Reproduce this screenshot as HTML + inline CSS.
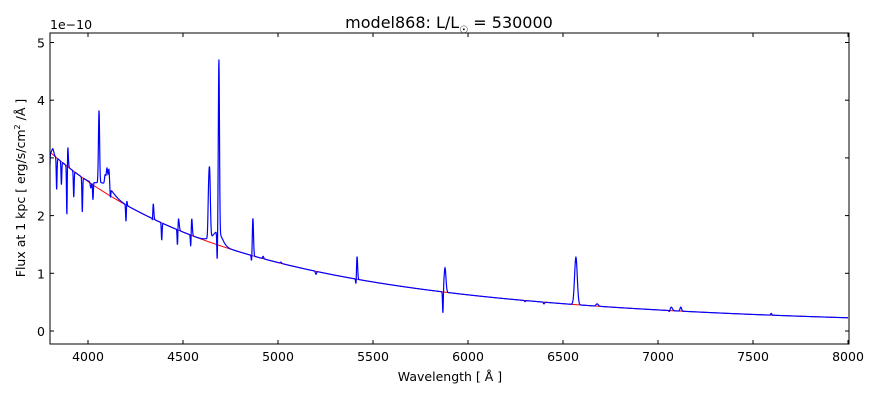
<!DOCTYPE html>
<html><head><meta charset="utf-8"><style>
body{margin:0;background:#fff;}
svg{display:block;font-family:"DejaVu Sans","Liberation Sans",sans-serif;}
</style></head><body>
<svg id="s" width="880" height="400" viewBox="0 0 880 400">
<rect width="880" height="400" fill="#fff"/>
<g id="plot"></g>
<rect x="50" y="33" width="799" height="311" fill="none" stroke="#000" stroke-width="1"/>
<g id="ticks" stroke="#000" stroke-width="1"></g>
<g font-size="12.5" fill="#000" id="lab"></g>
<text x="449" y="28" font-size="16" text-anchor="middle">model868: L/L<tspan font-size="10" dy="5">☉</tspan><tspan dy="-5"> = 530000</tspan></text>
<text x="50" y="29" font-size="12.5">1e−10</text>
<text x="450" y="381" font-size="12.5" text-anchor="middle">Wavelength [ Å ]</text>
<text transform="translate(25,188) rotate(-90)" font-size="12.5" text-anchor="middle">Flux at 1 kpc [ erg/s/cm<tspan font-size="8" dy="-5">2</tspan><tspan dy="5"> /Å ]</tspan></text>
</svg>
<script>
const X=l=>50+(l-3800)*0.19, Y=v=>331-v*57.7;
const cont=l=>3.1*Math.pow(3800/l,3.5);
const lines=[[4058,1.25,3],[4090,0.15,40],[4100,0.3,4],[4090,0.15,3],[4110,0.3,3],[4640,1.15,4],[4634,0.5,3],[4689,3.0,3],[4686,0.1,25],[4868,0.65,3],[5416,0.4,3],[5879,0.42,5],[6568,0.82,7],[4343,0.3,3],[4204,0.1,2],[4476,0.2,4],[4546,0.3,3],[3815,0.1,5],[3893,0.4,3],[7070,0.06,6],[7120,0.07,4],[6680,0.04,6],[4685,0.1,20],[4650,0.05,30],
[3889,-1.0,2],[3970,-0.6,2],[4026,-0.3,2],[4388,-0.3,2],[4471,-0.35,2],[4541,-0.25,2],[4680,-0.5,2],[5411,-0.15,2],[5868,-0.4,2],[3835,-0.55,2],[3798,-0.35,2],[3860,-0.4,2],[3925,-0.45,2],[4200,-0.3,2],[4861,-0.12,2],[4340,-0.15,2],[4922,0.04,3],[5015,0.02,3],[5200,-0.05,3],[6300,-0.02,3],[6400,-0.03,3],[7596,0.03,3],[7060,-0.03,3],[4118,-0.15,2],[4015,-0.1,3]];
let r="",b="";
for(let l=3800;l<=8000;l+=1){const c=cont(l);r+=(l==3800?"M":"L")+X(l).toFixed(2)+","+Y(c).toFixed(2);
let f=c;for(const [m,a,s] of lines){const d=(l-m)/s;if(Math.abs(d)<6)f+=a*Math.exp(-0.5*d*d);}
b+=(l==3800?"M":"L")+X(l).toFixed(2)+","+Y(f).toFixed(2);}
document.getElementById("plot").innerHTML=`<path d="${r}" fill="none" stroke="#f00" stroke-width="1"/><path d="${b}" fill="none" stroke="#00f" stroke-width="1.2"/>`;
let t="",lab="";
for(let v=4000;v<=8000;v+=500){const x=X(v);t+=`<line x1="${x}" y1="344" x2="${x}" y2="340"/><line x1="${x}" y1="33" x2="${x}" y2="37"/>`;lab+=`<text x="${x}" y="361" text-anchor="middle">${v}</text>`;}
for(let v=0;v<=5;v++){const y=Y(v);t+=`<line x1="50" y1="${y}" x2="54" y2="${y}"/><line x1="849" y1="${y}" x2="845" y2="${y}"/>`;lab+=`<text x="45" y="${y+5}" text-anchor="end">${v}</text>`;}
document.getElementById("ticks").innerHTML=t;document.getElementById("lab").innerHTML=lab;
</script>
</body></html>
